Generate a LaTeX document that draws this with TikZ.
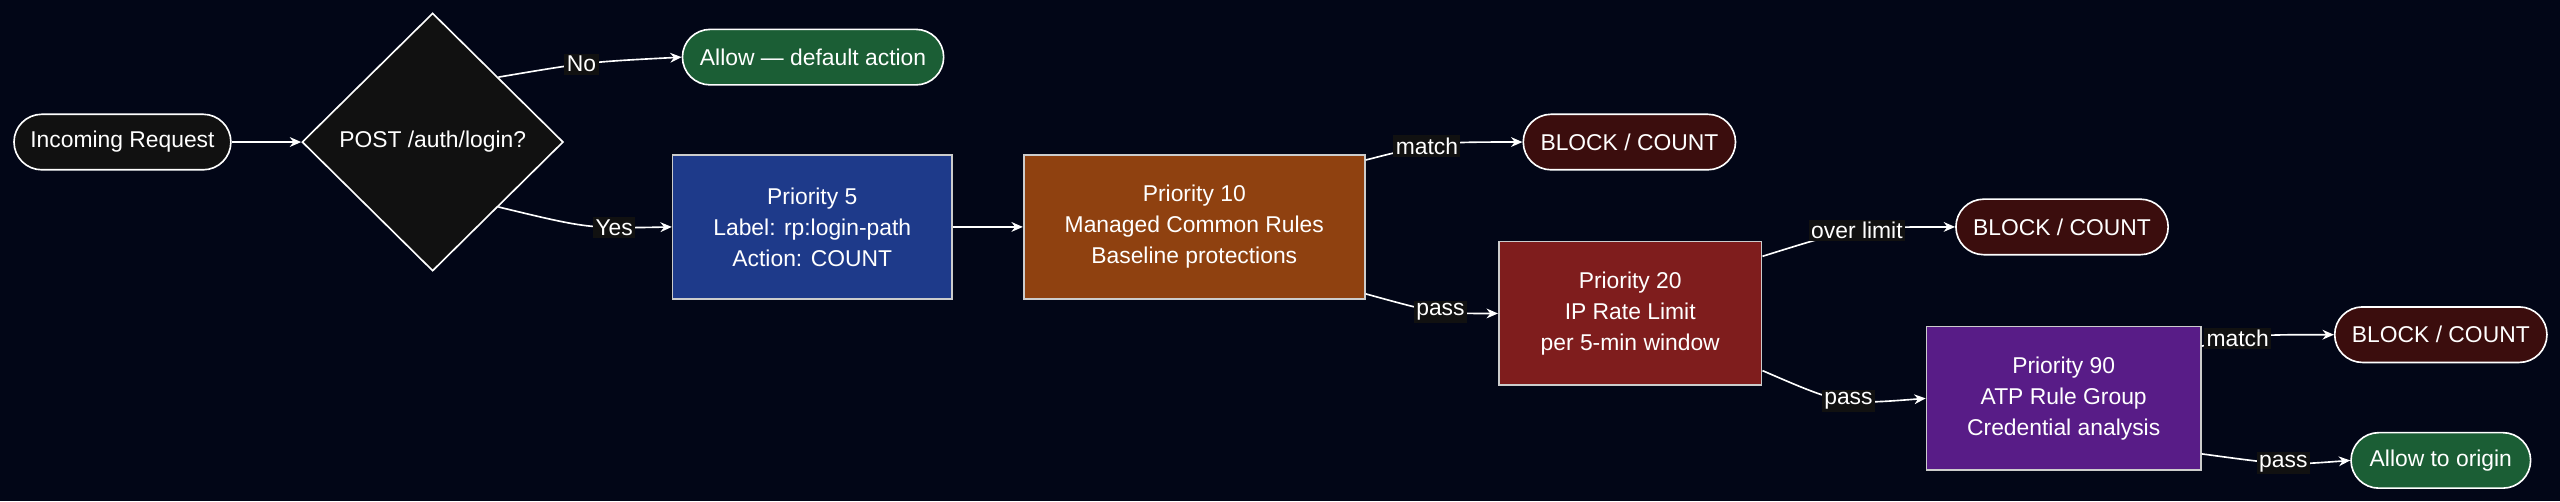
\documentclass[tikz,border=0pt]{standalone}
\usepackage{fontspec}
\setmainfont{Liberation Sans}
\usetikzlibrary{shapes.geometric,arrows.meta}
\definecolor{bg}{HTML}{020617}
\definecolor{dia}{HTML}{111111}
\definecolor{grn}{HTML}{1B5E35}
\definecolor{blu}{HTML}{1E3A8A}
\definecolor{org}{HTML}{8F4110}
\definecolor{redb}{HTML}{7F1D1D}
\definecolor{blk}{HTML}{3B0D0D}
\definecolor{pur}{HTML}{581C87}
\definecolor{lblbg}{HTML}{111111}
\begin{document}
\begin{tikzpicture}[x=1pt,y=-1pt,
  every node/.style={font=\fontsize{14}{19}\selectfont, text=white},
  pill/.style={draw=white, line width=1pt, rounded corners=17pt, minimum height=34pt, inner xsep=10pt},
  box/.style={draw=white!80!black, line width=1pt, align=center, minimum height=88pt},
  lbl/.style={fill=lblbg, inner sep=1.5pt},
  edge/.style={draw=white, line width=1pt, -{Stealth[length=7pt,width=6pt]}}]
\fill[bg] (0,0) rectangle (1568,307);
\useasboundingbox (0,0) rectangle (1568,307);
\node[pill, fill=dia, minimum width=130pt] (in) at (75,87) {Incoming Request};
\node[diamond, draw=white, line width=1pt, fill=dia, minimum width=160pt, minimum height=158pt, inner sep=0pt] (d) at (265,87) {POST /auth/login?};
\node[pill, fill=grn, minimum width=160pt] (allow) at (498,35) {Allow — default action};
\node[box, fill=blu, minimum width=171pt] (p5) at (497.5,139) {Priority 5\\Label: rp:login-path\\Action: COUNT};
\node[box, fill=org, minimum width=209pt] (p10) at (731.5,139) {Priority 10\\Managed Common Rules\\Baseline protections};
\node[pill, fill=blk, minimum width=130pt] (b1) at (998,87) {BLOCK / COUNT};
\node[box, fill=redb, minimum width=161pt] (p20) at (998.5,192) {Priority 20\\IP Rate Limit\\per 5-min window};
\node[pill, fill=blk, minimum width=130pt] (b2) at (1263,139) {BLOCK / COUNT};
\node[box, fill=pur, minimum width=168pt] (p90) at (1264,244) {Priority 90\\ATP Rule Group\\Credential analysis};
\node[pill, fill=blk, minimum width=130pt] (b3) at (1495,205) {BLOCK / COUNT};
\node[pill, fill=grn, minimum width=110pt] (ok) at (1495,282) {Allow to origin};

\draw[edge] (in.east) to[out=0,in=180] (d.west);
\draw[edge] (d.north east) .. controls (360,38) .. node[lbl,pos=0.45]{No} (allow.west);
\draw[edge] (d.south east) .. controls (360,140) .. node[lbl,pos=0.7]{Yes} (p5.west);
\draw[edge] (p5.east) -- (p10.west);
\draw[edge] (p10.east |- 0,98) .. controls (880,87) .. node[lbl,pos=0.4]{match} (b1.west);
\draw[edge] (p10.east |- 0,180) .. controls (880,192) .. node[lbl,pos=0.55]{pass} (p20.west);
\draw[edge] (p20.east |- 0,157) .. controls (1137,139) .. node[lbl,pos=0.5]{over limit} (b2.west);
\draw[edge] (p20.east |- 0,227) .. controls (1128,248) .. node[lbl,pos=0.55]{pass} (p90.west);
\draw[edge] (p90.east |- 0,212) .. controls (1380,205) .. node[lbl,pos=0.3]{match} (b3.west);
\draw[edge] (p90.east |- 0,278) .. controls (1400,285) .. node[lbl,pos=0.5]{pass} (ok.west);
\end{tikzpicture}
\end{document}
